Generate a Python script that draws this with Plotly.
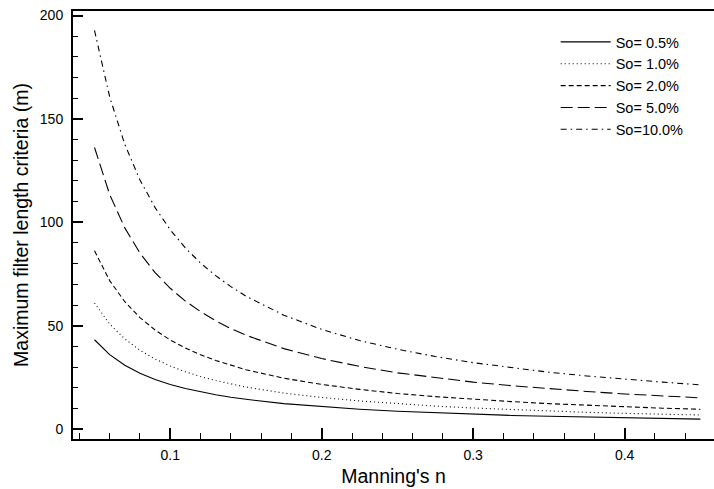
import plotly.graph_objects as go

manning_n = [0.05, 0.06, 0.07, 0.08, 0.09, 0.10, 0.11, 0.12, 0.13, 0.14, 0.15,
             0.175, 0.20, 0.225, 0.25, 0.275, 0.30, 0.325, 0.35, 0.375, 0.40, 0.425, 0.45]

so_05 = [43.2, 36.0, 30.9, 27.0, 24.0, 21.6, 19.6, 18.0, 16.6, 15.4, 14.4, 12.3, 10.8,
         9.6, 8.6, 7.9, 7.2, 6.6, 6.2, 5.8, 5.4, 5.1, 4.8]
so_10 = [61.0, 50.8, 43.6, 38.1, 33.9, 30.5, 27.7, 25.4, 23.5, 21.8, 20.3, 17.4, 15.3,
         13.6, 12.2, 11.1, 10.2, 9.4, 8.7, 8.1, 7.6, 7.2, 6.8]
so_20 = [86.2, 71.8, 61.6, 53.9, 47.9, 43.1, 39.2, 35.9, 33.2, 30.8, 28.7, 24.6, 21.6,
         19.2, 17.2, 15.7, 14.4, 13.3, 12.3, 11.5, 10.8, 10.1, 9.6]
so_50 = [136.2, 113.5, 97.3, 85.1, 75.7, 68.1, 61.9, 56.8, 52.4, 48.6, 45.4, 38.9, 34.1,
         30.3, 27.2, 24.8, 22.7, 21.0, 19.5, 18.2, 17.0, 16.0, 15.1]
so_100 = [192.8, 160.7, 137.7, 120.5, 107.1, 96.4, 87.6, 80.3, 74.2, 68.9, 64.3, 55.1, 48.2,
          42.8, 38.6, 35.1, 32.1, 29.7, 27.5, 25.7, 24.1, 22.7, 21.4]

series_names = ["So= 0.5%", "So= 1.0%", "So= 2.0%", "So= 5.0%", "So=10.0%"]
series_values = [so_05, so_10, so_20, so_50, so_100]
dashes = ["solid", "1px,3px", "5px,3px", "12px,5px", "6px,4px,1.5px,4px"]

fig = go.Figure()
for name, vals, dash in zip(series_names, series_values, dashes):
    fig.add_trace(go.Scatter(x=manning_n, y=vals, mode="lines", name=name,
                             line=dict(color="black", width=1.1, dash=dash)))

font_family = "Liberation Sans, Arial, sans-serif"
fig.update_layout(
    width=714, height=489,
    margin=dict(l=73, r=0, t=11, b=50),
    paper_bgcolor="white", plot_bgcolor="white",
    font=dict(family=font_family, color="black", size=14),
    showlegend=True,
    legend=dict(x=0.753, y=0.965, xanchor="left", yanchor="top",
                bgcolor="rgba(0,0,0,0)", font=dict(size=14.5, family=font_family),
                itemwidth=50, tracegroupgap=0),
)
fig.update_xaxes(
    range=[0.0358, 0.459], showgrid=False, zeroline=False, automargin=False,
    showline=True, linecolor="black", linewidth=2, mirror=True,
    ticks="inside", ticklen=11, tickwidth=2, tickcolor="black",
    tick0=0, dtick=0.1, tickformat=".1f", ticklabelstandoff=2,
    ticklabeloverflow="allow",
    minor=dict(ticks="inside", ticklen=6, tickwidth=1, tickcolor="black", dtick=0.02, tick0=0),
    title=dict(text="Manning's n", font=dict(size=19.5), standoff=8),
    tickfont=dict(size=14),
)
fig.update_yaxes(
    range=[-4.8, 202.2], showgrid=False, zeroline=False, automargin=False,
    showline=True, linecolor="black", linewidth=2, mirror=False,
    ticks="inside", ticklen=10, tickwidth=2, tickcolor="black",
    tick0=0, dtick=50, ticklabelstandoff=5, ticklabeloverflow="allow",
    minor=dict(ticks="inside", ticklen=5, tickwidth=1, tickcolor="black", dtick=10, tick0=0),
    title=dict(text="Maximum filter length criteria (m)", font=dict(size=19.5), standoff=6),
    tickfont=dict(size=14),
)

fig.write_html("out.html", config={"displayModeBar": False},
               post_script="document.body.style.margin='0px';")
